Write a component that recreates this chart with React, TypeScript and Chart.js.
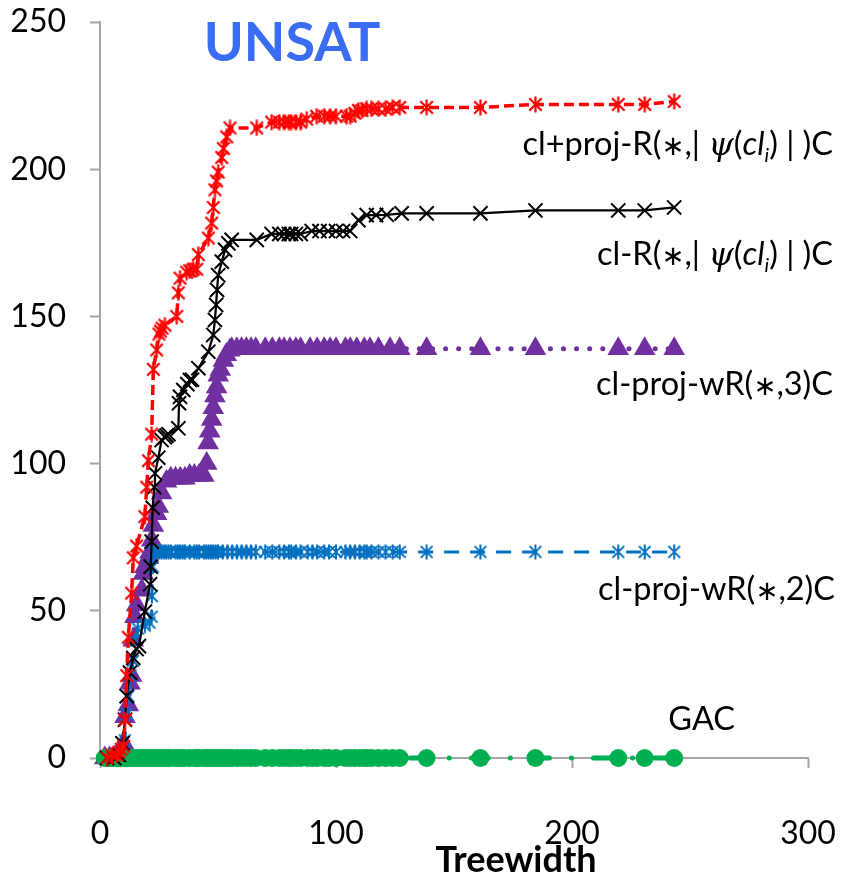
import React, { useEffect, useRef } from "react";
import { Chart, registerables } from "chart.js";

Chart.register(...registerables);

const FONT = "Lato, 'DejaVu Sans', sans-serif";

// ---- Axis ticks ----
const xTickValues = [0, 100, 200, 300];
const yTickValues = [0, 50, 100, 150, 200, 250];

// ---- cl+proj-R(*,|psi(cl_i)|)C (red) ----
const redX = [3, 5, 7, 8, 9, 10, 10.6, 11.3, 12, 13.4, 14.1, 15.5, 19, 19.8, 20.5, 21.9, 22.6, 24, 25, 25.6, 26.3, 27.5, 32.5, 33.2, 33.9, 36.7, 38, 39.5, 41, 41.7, 45.9, 47.3, 48, 48.7, 49.4, 50.1, 51.6, 52.3, 53.7, 55.1, 66.4, 72.7, 76, 78, 80, 81, 83, 85, 87.6, 91.8, 95, 97.5, 100, 104.5, 106, 108, 109.5, 111, 113, 115, 118, 121, 124, 127, 138.4, 161.2, 184.5, 219.6, 230.8, 243.3];
const redY = [0, 1, 1, 2, 3, 4, 13, 28, 41, 56, 68, 72, 82, 92, 101, 110, 132, 138.6, 144, 145, 146, 147, 150, 158, 163, 165, 165.5, 166, 166, 171, 176.6, 181.7, 187, 193, 196, 199, 204, 207, 211, 214, 214, 216, 216, 216, 216, 216, 216, 216, 217, 218, 218, 218, 218, 218, 218, 219, 220, 220, 220.5, 220.5, 220.5, 220.5, 221, 221, 221, 221, 222, 222, 222, 223];

// ---- cl-R(*,|psi(cl_i)|)C (black) ----
const blackX = [3, 6, 8, 9.5, 10.6, 11.3, 12.7, 14.1, 15.5, 16.5, 19, 21.2, 21.5, 21.9, 22.3, 23, 23.3, 24.7, 26.1, 27.5, 28.2, 29, 33.2, 33.5, 33.9, 35.3, 37, 38.1, 39, 41.7, 45.9, 48, 48.7, 49.2, 49.6, 50.1, 51.6, 53, 54.4, 55.8, 66.4, 72.7, 76, 78, 80, 81, 83, 85, 89.7, 93, 96.7, 100, 103, 106, 109.5, 113, 117, 121.5, 127.8, 138.4, 161.2, 184.5, 219.6, 230.8, 243.3];
const blackY = [0, 0, 1, 5, 13, 21, 29, 34, 37, 38, 49.7, 59, 65, 73.5, 85, 92, 96.7, 102, 108, 109, 109.5, 110, 112, 120.5, 122.7, 125, 127, 128.4, 128.5, 132.4, 138, 143.7, 148.8, 153.9, 159, 164, 168.6, 172.6, 174.8, 176, 176, 178, 178, 178, 178, 178, 178, 178, 179, 179, 179, 179, 179, 179, 182.7, 184.4, 184.4, 184.5, 185, 185, 185, 186, 186, 186, 187];

// ---- cl-proj-wR(*,3)C (purple) ----
const purpleX = [2, 4, 6, 8, 10, 10.6, 12, 12.7, 13.4, 14.1, 14.8, 15.5, 17.7, 18.4, 19, 20.5, 21.2, 21.9, 22.6, 24, 24.7, 26.1, 28.2, 30, 32, 34, 36, 38, 40, 42, 44, 45.2, 45.8, 46.5, 47.3, 48, 48.7, 49.4, 50.1, 51, 52.3, 53.5, 55, 55.8, 58, 60, 62, 64, 66, 70, 73, 76, 78, 80.5, 83, 85, 89, 92, 95, 97.5, 100, 104, 106, 108.8, 112, 114.4, 118, 122.9, 127, 138.4, 161.2, 184.5, 219.6, 230.8, 243.3];
const purpleY = [0, 0, 0, 0, 5, 14, 18, 25.4, 28, 40, 48, 52, 57, 62.7, 65, 68, 70, 74, 79, 83, 85.4, 90, 94, 95, 95, 95, 95, 96, 96, 96, 96, 100, 107, 111, 115, 119, 123, 126, 130, 132, 135, 137, 138.5, 139, 139, 139, 139, 139, 139, 139, 139, 139, 139, 139, 139, 139, 139, 139, 139, 139, 139, 139, 139, 139, 139, 139, 139, 139, 139, 139, 139, 139, 139, 139, 139];

// ---- cl-proj-wR(*,2)C (blue) ----
const blueX = [3, 6, 9, 10.5, 11.3, 12, 13, 14, 14.8, 16, 19, 21, 21.9, 22, 22.3, 22.6, 24, 25, 26, 27, 28, 29, 30, 32, 33, 34, 35, 36, 38, 40, 41, 42, 44, 45, 46, 47, 48, 49, 50, 52, 54, 56, 58, 60, 62, 64, 66, 70, 73, 76, 78, 80, 81, 83, 85, 88, 90, 92, 95, 97, 100, 104, 106, 108, 110, 112, 113, 115, 118, 121, 124, 127, 138.4, 161.2, 184.5, 219.6, 230.8, 243.3];
const blueY = [0, 0, 0, 6, 15, 21, 28, 33, 40, 44, 45, 46, 48, 55, 65,
  70, 70, 70, 70, 70, 70, 70, 70, 70, 70, 70, 70, 70, 70, 70, 70, 70, 70, 70, 70, 70,
  70, 70, 70, 70, 70, 70, 70, 70, 70, 70, 70, 70, 70, 70, 70, 70, 70, 70, 70, 70, 70,
  70, 70, 70, 70, 70, 70, 70, 70, 70, 70, 70, 70, 70, 70, 70, 70, 70, 70, 70, 70, 70];

// ---- GAC (green) ----
const gacX = [2, 3, 4, 5, 6, 7, 8, 9, 10, 11, 12, 13, 14, 15, 16, 17, 18, 19, 20, 21, 22, 23, 24, 25, 26, 27, 28, 29, 30, 32, 33, 34, 35, 36, 38, 40, 41, 42, 44, 45, 46, 47, 48, 49, 50, 51, 52, 53, 54, 55, 56, 58, 60, 62, 64, 66, 70, 73, 76, 78, 80, 81, 83, 85, 88, 90, 92, 95, 97, 100, 104, 106, 108, 110, 112, 113, 115, 118, 121, 124, 127, 138.4, 161.2, 184.5, 219.6, 230.8, 243.3];
const gacY = [0, 0, 0, 0, 0, 0, 0, 0, 0, 0, 0, 0, 0, 0, 0, 0, 0, 0, 0, 0, 0, 0, 0, 0, 0, 0, 0, 0, 0,
  0, 0, 0, 0, 0, 0, 0, 0, 0, 0, 0, 0, 0, 0, 0, 0, 0, 0, 0, 0, 0, 0, 0, 0, 0, 0, 0, 0, 0, 0,
  0, 0, 0, 0, 0, 0, 0, 0, 0, 0, 0, 0, 0, 0, 0, 0, 0, 0, 0, 0, 0, 0, 0, 0, 0, 0, 0, 0];

const zip = (xs: number[], ys: number[]) => xs.map((x, i) => ({ x, y: ys[i] }));

function asteriskImage(color: string, size: number, lw: number): HTMLCanvasElement {
  const c = document.createElement("canvas");
  c.width = size;
  c.height = size;
  const g = c.getContext("2d")!;
  g.strokeStyle = color;
  g.lineWidth = lw;
  const h = size / 2;
  const r = size / 2 - 0.5;
  const d = r * 0.78;
  g.beginPath();
  g.moveTo(h - d, h - d);
  g.lineTo(h + d, h + d);
  g.moveTo(h + d, h - d);
  g.lineTo(h - d, h + d);
  g.moveTo(h, h - r);
  g.lineTo(h, h + r);
  g.stroke();
  return c;
}

type Seg = { t: string; it?: boolean; sub?: boolean; fam?: string; scale?: number };

function drawRich(ctx: CanvasRenderingContext2D, segs: Seg[], right: number, cy: number, size: number) {
  const fontOf = (s: Seg) => {
    const sz = s.sub ? Math.round(size * 0.62) : size * (s.scale || 1);
    return `${s.it ? "italic " : ""}${sz}px ${s.fam || FONT}`;
  };
  let total = 0;
  const widths: number[] = [];
  for (const s of segs) {
    ctx.font = fontOf(s);
    const w = ctx.measureText(s.t).width;
    widths.push(w);
    total += w;
  }
  let x = right - total;
  ctx.textAlign = "left";
  ctx.textBaseline = "alphabetic";
  const base = cy + size * 0.36;
  segs.forEach((s, i) => {
    ctx.font = fontOf(s);
    ctx.fillText(s.t, x, base + (s.sub ? size * 0.22 : 0));
    x += widths[i];
  });
}

const STAR: Seg = { t: "\u2217", scale: 0.85 };

const psiLabel = (prefix: string): Seg[] => [
  { t: prefix + "(" },
  STAR,
  { t: ",| " },
  { t: "\u03C8", it: true, fam: "'DejaVu Serif', serif" },
  { t: "(" },
  { t: "cl", it: true },
  { t: "i", it: true, sub: true },
  { t: ") | )C" },
];

const textPlugin = {
  id: "annotTexts",
  afterDraw(chart: any) {
    const ctx: CanvasRenderingContext2D = chart.ctx;
    ctx.save();
    ctx.fillStyle = "#3a6cf4";
    ctx.font = `bold 54px ${FONT}`;
    ctx.textAlign = "center";
    ctx.textBaseline = "middle";
    ctx.fillText("UNSAT", 292, 44);

    ctx.fillStyle = "#000000";
    ctx.font = `bold 36px ${FONT}`;
    ctx.fillText("Treewidth", 516, 860);

    const fs = 32.5;
    drawRich(ctx, psiLabel("cl+proj-R"), 833, 143, fs);
    drawRich(ctx, psiLabel("cl-R"), 833, 253, fs);
    drawRich(ctx, [{ t: "cl-proj-wR(" }, STAR, { t: ",3)C" }], 833, 383, fs);
    drawRich(ctx, [{ t: "cl-proj-wR(" }, STAR, { t: ",2)C" }], 835, 588, fs);
    drawRich(ctx, [{ t: "GAC" }], 735, 718, fs);
    ctx.restore();
  },
};

export default function App() {
  const ref = useRef<HTMLCanvasElement>(null);

  useEffect(() => {
    if (!ref.current) return;
    const redStar = asteriskImage("#FF0000", 17, 2.2);
    const blueStar = asteriskImage("#0070C0", 16, 2);
    const axisColor = "#A6A6A6";

    const chart = new Chart(ref.current, {
      type: "line",
      data: {
        datasets: [
          {
            label: "cl+proj-R",
            data: zip(redX, redY),
            borderColor: "#FF0000",
            borderWidth: 3.5,
            borderDash: [10, 5],
            pointStyle: redStar as any,
            pointRadius: 8,
            clip: false as any,
          },
          {
            label: "cl-R",
            data: zip(blackX, blackY),
            borderColor: "#000000",
            backgroundColor: "#000000",
            borderWidth: 2.25,
            pointStyle: "crossRot",
            pointRadius: 10,
            pointBorderWidth: 2,
            pointBorderColor: "#000000",
            clip: false as any,
          },
          {
            label: "GAC",
            data: zip(gacX, gacY),
            borderColor: "#00B050",
            backgroundColor: "#00B050",
            borderWidth: 5,
            borderDash: [17, 22, 0.1, 22],
            borderCapStyle: "round",
            pointStyle: "circle",
            pointRadius: 9,
            pointBorderWidth: 0,
            pointBackgroundColor: "#00B050",
            clip: false as any,
          },
          {
            label: "cl-proj-wR2",
            data: zip(blueX, blueY),
            borderColor: "#0070C0",
            borderWidth: 3,
            borderDash: [15, 11],
            pointStyle: blueStar as any,
            pointRadius: 8,
            clip: false as any,
          },
          {
            label: "cl-proj-wR3",
            data: zip(purpleX, purpleY),
            borderColor: "#7030A0",
            backgroundColor: "#7030A0",
            borderWidth: 5,
            borderDash: [0.1, 13],
            borderCapStyle: "round",
            pointStyle: "triangle",
            pointRadius: 12.5,
            pointBorderWidth: 0,
            pointBackgroundColor: "#7030A0",
            clip: false as any,
          },
        ],
      },
      options: {
        responsive: false,
        animation: false,
        events: [],
        layout: { padding: { top: 22, right: 34, left: 0, bottom: 0 } },
        plugins: { legend: { display: false }, tooltip: { enabled: false } },
        elements: { line: { tension: 0 } },
        scales: {
          x: {
            type: "linear",
            min: 0,
            max: 300,
            afterFit: (s: any) => {
              s.height = 120;
              s.paddingLeft = 0;
              s.paddingRight = 0;
            },
            afterBuildTicks: (s: any) => {
              s.ticks = xTickValues.map((v) => ({ value: v }));
            },
            grid: {
              display: true,
              drawOnChartArea: false,
              drawTicks: true,
              tickLength: 10,
              tickColor: axisColor,
              tickWidth: 2,
            },
            border: { display: true, color: axisColor, width: 2 },
            ticks: {
              color: "#000000",
              font: { family: FONT, size: 32 },
              padding: 46,
              maxRotation: 0,
            },
          },
          y: {
            type: "linear",
            min: 0,
            max: 250,
            afterFit: (s: any) => {
              s.width = 100;
              s.paddingTop = 0;
              s.paddingBottom = 0;
            },
            afterBuildTicks: (s: any) => {
              s.ticks = yTickValues.map((v) => ({ value: v }));
            },
            grid: {
              display: true,
              drawOnChartArea: false,
              drawTicks: true,
              tickLength: 10,
              tickColor: axisColor,
              tickWidth: 2,
            },
            border: { display: true, color: axisColor, width: 2 },
            ticks: {
              color: "#000000",
              font: { family: FONT, size: 32 },
              padding: 24,
            },
          },
        },
      },
      plugins: [textPlugin],
    });
    return () => chart.destroy();
  }, []);

  return (
    <div style={{ position: "absolute", left: 0, top: 0, width: 842, height: 878, background: "#ffffff" }}>
      <canvas ref={ref} width={842} height={878} style={{ width: 842, height: 878, display: "block" }} />
    </div>
  );
}
